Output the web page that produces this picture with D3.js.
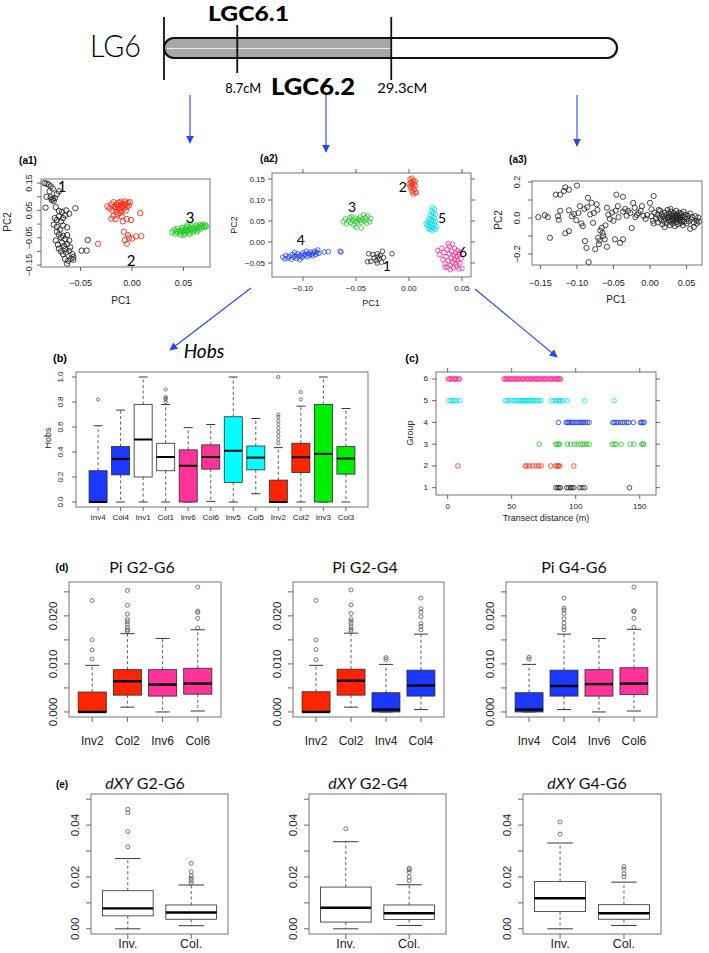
<!DOCTYPE html>
<html><head><meta charset="utf-8">
<script src="https://cdn.jsdelivr.net/npm/d3@7/dist/d3.min.js"></script>
<style>html,body{margin:0;padding:0;background:#fff;}svg{display:block;}</style>
</head><body>
<svg id="fig" width="709" height="953"></svg>
<script>
// ================= DATA =================
const chromEndsCM = [-1.1, 59.5];
const chromMarkersCM = [8.7, 29.3];
const chromMarkerText = ["8.7cM", "29.3cM"];
const chromRegionText = ["LGC6.1", "LGC6.2"];

// (a1) PCA, PC1/PC2
const a1Cluster1 = [[-0.085,0.150],[-0.083,0.148],[-0.081,0.145],[-0.079,0.138],[-0.077,0.130],[-0.080,0.120],[-0.083,0.100],[-0.079,0.098],[-0.077,0.093],[-0.075,0.095],[-0.078,0.088],[-0.076,0.085],[-0.073,0.110],[-0.071,0.120],[-0.084,0.060],[-0.074,0.062],[-0.071,0.048],[-0.068,0.045],[-0.064,0.050],[-0.055,0.058],[-0.075,0.022],[-0.073,0.015],[-0.071,0.028],[-0.069,0.010],[-0.067,0.022],[-0.065,0.032],[-0.061,0.038],[-0.076,-0.002],[-0.073,-0.010],[-0.070,-0.020],[-0.067,-0.005],[-0.063,-0.012],[-0.071,-0.038],[-0.069,-0.048],[-0.067,-0.043],[-0.065,-0.055],[-0.063,-0.040],[-0.061,-0.060],[-0.068,-0.068],[-0.066,-0.080],[-0.063,-0.073],[-0.060,-0.085],[-0.071,-0.090],[-0.069,-0.100],[-0.067,-0.110],[-0.064,-0.104],[-0.061,-0.098],[-0.058,-0.110],[-0.057,-0.120],[-0.059,-0.126],[-0.065,-0.128],[-0.062,-0.134],[-0.063,-0.145],[-0.057,-0.130],[-0.074,-0.060],[-0.073,-0.028],[-0.065,-0.092],[-0.072,-0.075],[-0.043,-0.058],[-0.049,-0.097],[-0.044,-0.097]];
const a1Cluster2 = [[-0.024,0.065],[-0.022,0.058],[-0.020,0.072],[-0.019,0.050],[-0.018,0.080],[-0.017,0.064],[-0.016,0.057],[-0.015,0.072],[-0.015,0.045],[-0.014,0.068],[-0.013,0.078],[-0.013,0.060],[-0.012,0.052],[-0.011,0.070],[-0.011,0.082],[-0.010,0.063],[-0.010,0.046],[-0.009,0.075],[-0.008,0.058],[-0.008,0.068],[-0.007,0.083],[-0.006,0.072],[-0.006,0.050],[-0.005,0.062],[-0.004,0.078],[-0.003,0.068],[-0.002,0.080],[-0.014,0.035],[-0.018,0.030],[-0.010,0.028],[-0.020,0.020],[-0.016,0.018],[-0.005,0.018],[-0.001,0.015],[0.008,0.040],[-0.008,-0.028],[-0.004,-0.040],[-0.007,-0.059],[-0.005,-0.072],[0.000,-0.053],[0.004,-0.045],[0.009,-0.044],[-0.003,-0.050],[-0.033,-0.072],[-0.012,0.040],[-0.009,0.010]];
const a1Cluster3 = [[0.039,-0.030],[0.041,-0.022],[0.042,-0.035],[0.043,-0.027],[0.044,-0.018],[0.045,-0.031],[0.046,-0.024],[0.047,-0.038],[0.048,-0.020],[0.048,-0.029],[0.049,-0.014],[0.050,-0.025],[0.051,-0.033],[0.052,-0.018],[0.052,-0.026],[0.053,-0.010],[0.054,-0.022],[0.055,-0.030],[0.056,-0.015],[0.057,-0.024],[0.058,-0.008],[0.058,-0.019],[0.059,-0.028],[0.060,-0.013],[0.061,-0.021],[0.062,-0.006],[0.063,-0.016],[0.064,-0.010],[0.065,-0.020],[0.066,-0.004],[0.067,-0.013],[0.068,-0.008],[0.069,-0.002],[0.070,-0.011],[0.071,-0.005],[0.072,-0.008],[0.056,-0.036],[0.050,-0.040],[0.063,-0.026],[0.054,-0.005]];
const a1XTicks = [-0.05, 0, 0.05];
const a1YTicks = [-0.15,-0.10,-0.05,0,0.05,0.10,0.15];
const a1YLabels = [-0.15,-0.05,0.05,0.15];

// (a2)
const a2Group1 = [[-0.038,-0.028],[-0.036,-0.046],[-0.034,-0.030],[-0.033,-0.038],[-0.031,-0.044],[-0.030,-0.028],[-0.029,-0.035],[-0.028,-0.040],[-0.027,-0.032],[-0.026,-0.048],[-0.025,-0.022],[-0.024,-0.037],[-0.016,-0.028],[-0.039,-0.047],[-0.030,-0.050]];
const a2Group2 = [[0.001,0.150],[0.003,0.152],[0.004,0.146],[0.002,0.143],[0.005,0.140],[0.000,0.138],[0.003,0.136],[0.006,0.134],[0.001,0.132],[0.004,0.130],[0.002,0.127],[0.005,0.125],[0.003,0.120],[0.006,0.117],[0.004,0.114],[0.007,0.118],[0.002,0.140],[0.006,0.145]];
const a2Group3 = [[-0.062,0.048],[-0.060,0.055],[-0.059,0.043],[-0.057,0.050],[-0.056,0.058],[-0.055,0.046],[-0.053,0.052],[-0.052,0.040],[-0.051,0.057],[-0.050,0.049],[-0.049,0.045],[-0.048,0.055],[-0.047,0.051],[-0.046,0.060],[-0.045,0.047],[-0.044,0.054],[-0.043,0.065],[-0.042,0.050],[-0.041,0.058],[-0.040,0.045],[-0.039,0.062],[-0.037,0.048],[-0.036,0.056],[-0.050,0.035],[-0.045,0.033],[-0.054,0.060]];
const a2Group4 = [[-0.119,-0.036],[-0.117,-0.040],[-0.116,-0.032],[-0.114,-0.038],[-0.113,-0.034],[-0.111,-0.041],[-0.110,-0.030],[-0.109,-0.036],[-0.107,-0.033],[-0.106,-0.039],[-0.105,-0.028],[-0.104,-0.034],[-0.102,-0.031],[-0.101,-0.037],[-0.100,-0.026],[-0.099,-0.033],[-0.098,-0.029],[-0.097,-0.022],[-0.096,-0.035],[-0.095,-0.027],[-0.094,-0.031],[-0.093,-0.024],[-0.092,-0.029],[-0.091,-0.033],[-0.090,-0.026],[-0.089,-0.022],[-0.088,-0.030],[-0.087,-0.025],[-0.086,-0.019],[-0.085,-0.027],[-0.080,-0.024],[-0.076,-0.023],[-0.065,-0.022],[-0.064,-0.024],[-0.108,-0.025],[-0.103,-0.042]];
const a2Group5 = [[0.022,0.082],[0.024,0.078],[0.021,0.074],[0.023,0.070],[0.025,0.066],[0.020,0.064],[0.022,0.061],[0.024,0.058],[0.019,0.056],[0.021,0.053],[0.023,0.051],[0.025,0.049],[0.018,0.048],[0.020,0.045],[0.022,0.043],[0.024,0.041],[0.017,0.040],[0.019,0.037],[0.021,0.035],[0.023,0.033],[0.026,0.036],[0.016,0.044],[0.020,0.030],[0.022,0.027],[0.018,0.032],[0.025,0.030]];
const a2Group6 = [[0.027,-0.020],[0.029,-0.030],[0.031,-0.015],[0.032,-0.042],[0.033,-0.025],[0.034,-0.052],[0.035,-0.035],[0.036,-0.018],[0.036,-0.060],[0.037,-0.045],[0.038,-0.028],[0.038,-0.010],[0.039,-0.055],[0.040,-0.038],[0.040,-0.022],[0.041,-0.048],[0.041,-0.005],[0.042,-0.032],[0.042,-0.062],[0.043,-0.015],[0.043,-0.042],[0.044,-0.052],[0.044,-0.026],[0.045,-0.035],[0.045,-0.058],[0.046,-0.020],[0.046,-0.045],[0.047,-0.064],[0.047,-0.030],[0.048,-0.050],[0.049,-0.040],[0.050,-0.063],[0.039,-0.066],[0.034,-0.060],[0.048,-0.025],[0.037,-0.004]];
const a2XTicks = [-0.10,-0.05,0,0.05];
const a2YTicks = [-0.05,0,0.05,0.10,0.15];

// (a3)
const a3Points = [[-0.153,0.005],[-0.144,0.016],[-0.140,0.005],[-0.137,-0.110],[-0.129,0.130],[-0.123,0.130],[-0.118,0.150],[-0.116,0.170],[-0.111,0.157],[-0.100,0.180],[-0.123,0.040],[-0.126,0.010],[-0.125,-0.010],[-0.116,-0.085],[-0.111,-0.073],[-0.111,0.043],[-0.107,0.010],[-0.104,0.022],[-0.101,-0.012],[-0.098,0.028],[-0.096,0.066],[-0.090,0.050],[-0.092,-0.045],[-0.089,-0.128],[-0.087,-0.166],[-0.085,0.112],[-0.084,-0.245],[-0.080,0.085],[-0.078,-0.027],[-0.077,0.028],[-0.075,-0.173],[-0.073,0.076],[-0.071,-0.110],[-0.070,-0.145],[-0.066,-0.054],[-0.065,-0.083],[-0.062,-0.118],[-0.059,-0.160],[-0.059,0.057],[-0.055,-0.005],[-0.050,-0.015],[-0.048,-0.118],[-0.046,0.130],[-0.047,0.040],[-0.044,0.066],[-0.041,-0.138],[-0.037,-0.118],[-0.037,0.118],[-0.037,0.035],[-0.032,0.012],[-0.030,0.040],[-0.025,-0.056],[-0.023,0.084],[-0.021,0.057],[-0.018,0.017],[-0.016,0.028],[-0.011,0.066],[-0.009,0.012],[-0.004,0.017],[0.000,0.084],[0.002,0.049],[0.005,0.122],[-0.068,-0.070],[-0.064,-0.100],[-0.069,-0.125],[-0.061,-0.040],[-0.057,0.018],[-0.052,0.030],[-0.043,0.005],[-0.034,0.050],[-0.027,0.028],[-0.020,0.005],[-0.013,0.040],[-0.006,-0.005],[-0.082,0.020],[-0.086,0.060],[-0.094,-0.030],[-0.072,0.045],
[0.002,0.010],[0.004,-0.015],[0.006,0.030],[0.008,-0.002],[0.010,0.018],[0.011,-0.025],[0.013,0.005],[0.014,0.040],[0.015,-0.010],[0.016,0.022],[0.017,-0.035],[0.018,0.008],[0.019,-0.018],[0.020,0.030],[0.021,-0.004],[0.022,0.015],[0.023,-0.028],[0.024,0.045],[0.024,0.002],[0.025,-0.012],[0.026,0.025],[0.027,-0.040],[0.027,0.010],[0.028,-0.020],[0.029,0.035],[0.030,-0.005],[0.030,0.018],[0.031,-0.030],[0.032,0.005],[0.032,-0.015],[0.033,0.028],[0.034,-0.045],[0.034,0.012],[0.035,-0.008],[0.036,0.040],[0.036,-0.022],[0.037,0.020],[0.038,-0.002],[0.038,-0.035],[0.039,0.008],[0.040,0.030],[0.040,-0.015],[0.041,0.015],[0.042,-0.028],[0.042,0.000],[0.043,0.024],[0.044,-0.010],[0.045,-0.040],[0.045,0.010],[0.046,0.035],[0.047,-0.020],[0.048,0.004],[0.049,0.020],[0.050,-0.030],[0.051,-0.005],[0.052,0.012],[0.053,-0.018],[0.055,0.025],[0.056,-0.008],[0.058,0.005],[0.060,-0.025],[0.062,0.010],[0.064,-0.015],[0.055,-0.060],[0.060,-0.050],[0.066,0.002],[0.028,0.050],[0.020,-0.050],[0.012,0.045],[0.005,-0.030],[0.067,-0.020],[0.064,-0.030],[0.035,0.002],[0.031,-0.010],[0.026,0.004],[0.041,0.004],[0.044,-0.020],[0.037,0.010]];
const a3XTicks = [-0.15,-0.10,-0.05,0,0.05];
const a3YTicks = [-0.2,-0.1,0,0.1,0.2];
const a3YLabels = [-0.2,0,0.2];

// (b) Hobs boxplots: [lower whisker, Q1, median, Q3, upper whisker]
const hobsCategories = ["Inv4","Col4","Inv1","Col1","Inv6","Col6","Inv5","Col5","Inv2","Col2","Inv3","Col3"];
const hobsStats = [[0,0,0,0.25,0.61],[0,0.217,0.345,0.443,0.735],[0,0.20,0.50,0.78,1.0],[0,0.25,0.36,0.47,0.78],[0,0,0.29,0.417,0.595],[0.005,0.263,0.36,0.457,0.62],[0,0.157,0.41,0.682,1.0],[0.066,0.257,0.355,0.448,0.668],[0,0,0,0.175,0.435],[0,0.236,0.358,0.47,0.767],[0,0,0.385,0.78,1.0],[0,0.223,0.348,0.443,0.748]];
const hobsOutliers = [[0.82],[],[],[0.80,0.82,0.83,0.84,0.90],[],[],[],[],[0.47,0.50,0.53,0.56,0.59,0.62,0.65,0.68,0.70,1.0],[0.82,0.88],[],[]];
const hobsTicks = [0,0.2,0.4,0.6,0.8,1.0];

// (c) transect distance (m) by group
const transectGroup1 = [84.5,86,87,88,93,94.5,96,97,98.5,103,105,107,142];
const transectGroup2 = [8,60.5,62,64,66.5,69,71,73,80.5,84.5,85.5,86.5,87.5,98.5];
const transectGroup3 = [71.5,84.5,85.5,86.5,87.5,93.5,96,99,101,103.5,105.5,107,108.5,110.5,128.5,130,131.5,135.5,142.5,145.5,151.5,152.5,153];
const transectGroup4 = [86.5,92.5,93.5,94.5,95.5,97,98,99.5,101,102.5,104,105,106,107.5,109,110.5,129,130,131.5,133,135,136.5,138,140,141.5,145,150.5,151.5,152.5,153.5];
const transectGroup5 = [1,2.5,4,5.5,7,9.5,45,46.5,48,50,52,53.5,55,56.5,58,59,60,61,62.5,63.5,65,66,67,68.5,70,71.5,73,81,83,85,86.5,87.5,88.5,90,93.5,107,130];
const transectGroup6 = [0.5,1.5,2.5,3.5,5,6,7,8.5,9.5,44,45,46,47,48.5,49.5,50.5,52,53,54,55,56,57.5,58.5,59.5,61,62,63,64.5,65.5,66.5,68,69,70,71,72.5,73.5,75,76,77,78.5,80,81,82,83.5,84.5,85.5,86.5,87.5,88];
const transectXTicks = [0,50,100,150];
const transectYTicks = [1,2,3,4,5,6];

// (d) Pi
const piTicks = [0,0.005,0.010,0.015,0.020,0.025];
const piLabels = [0,0.010,0.020];
const piG2G6Categories = ["Inv2","Col2","Inv6","Col6"];
const piG2G6Stats = [[0,0,0,0.00415,0.0097],[0.001,0.0035,0.0064,0.0088,0.0163],[0,0.0033,0.0057,0.0088,0.0153],[0.0002,0.0037,0.0059,0.0091,0.0171]];
const piG2G6Outliers = [[0.011,0.0129,0.015,0.0232],[0.0168,0.0171,0.0176,0.0183,0.0188,0.0193,0.0204,0.0222,0.0253],[],[0.0175,0.0195,0.0207,0.0210,0.026]];
const piG2G4Categories = ["Inv2","Col2","Inv4","Col4"];
const piG2G4Stats = [[0,0,0,0.0042,0.0097],[0.001,0.0035,0.0065,0.0089,0.0164],[0,0,0.0005,0.004,0.0099],[0.0005,0.0033,0.0055,0.0087,0.0162]];
const piG2G4Outliers = [[0.0109,0.013,0.015,0.0232],[0.0168,0.0172,0.0177,0.0184,0.0189,0.0194,0.0205,0.0223,0.0254],[0.0109,0.0113],[0.0171,0.0178,0.0184,0.0198,0.0208,0.0215,0.0237]];
const piG4G6Categories = ["Inv4","Col4","Inv6","Col6"];
const piG4G6Stats = [[0,0,0.0005,0.004,0.0099],[0.0005,0.0033,0.0054,0.0087,0.0162],[0,0.0033,0.0058,0.0088,0.0153],[0.0002,0.0036,0.0059,0.0092,0.0172]];
const piG4G6Outliers = [[0.011,0.0114],[0.0171,0.0177,0.0185,0.0194,0.0205,0.0212,0.0216,0.0237],[],[0.0176,0.0195,0.0209,0.0211,0.026]];

// (e) dXY
const dxyTicks = [0,0.01,0.02,0.03,0.04,0.05];
const dxyLabels = [0,0.02,0.04];
const dxyCategories = ["Inv.","Col."];
const dxyG2G6Stats = [[0,0.005,0.0079,0.0147,0.0271],[0.0012,0.0037,0.0063,0.0092,0.0169]];
const dxyG2G6Outliers = [[0.0316,0.0375,0.0448,0.0461],[0.0177,0.0186,0.0195,0.0205,0.022,0.0253]];
const dxyG2G4Stats = [[0,0.0026,0.0081,0.0161,0.0336],[0.0013,0.0036,0.006,0.0092,0.017]];
const dxyG2G4Outliers = [[0.0386],[0.0186,0.02,0.0218,0.0228,0.0234]];
const dxyG4G6Stats = [[0,0.0067,0.0118,0.0182,0.0331],[0.0013,0.0037,0.006,0.0093,0.018]];
const dxyG4G6Outliers = [[0.0365,0.0412],[0.02,0.0212,0.023,0.024]];

// ================= STYLE =================
const FONT = "'Liberation Sans', Arial, Helvetica, sans-serif";
const HFONT = "Lato, 'Open Sans', 'Liberation Sans', sans-serif";
const ARROW = "#2746f2";
const PT = {1:"#262626",2:"#ff2a12",3:"#22cc22",4:"#1f3dff",5:"#00e0ec",6:"#ff2a92"};
const BOXFILL = {1:"#ffffff",2:"#ff2400",3:"#00ee00",4:"#1a38ff",5:"#00ffff",6:"#ff3399"};
const catColor = name => BOXFILL[name.replace(/\D/g,"")] || "#fff";

const svg = d3.select("#fig");
const defs = svg.append("defs");
defs.append("marker").attr("id","ah").attr("viewBox","0 0 10 10").attr("refX",9).attr("refY",5)
  .attr("markerUnits","userSpaceOnUse").attr("markerWidth",8).attr("markerHeight",8).attr("orient","auto")
  .append("path").attr("d","M0,0L10,5L0,10Z").attr("fill",ARROW);

function addText(p, x, y, s, o = {}) {
  const t = p.append("text").attr("x", x).attr("y", y).text(s)
    .attr("font-family", o.family || FONT).attr("font-size", o.size || 10)
    .attr("fill", o.fill || "#000").attr("text-anchor", o.anchor || "middle");
  if (o.weight) t.attr("font-weight", o.weight);
  if (o.style) t.attr("font-style", o.style);
  if (o.baseline) t.attr("dominant-baseline", o.baseline);
  if (o.rotate != null) t.attr("transform", `rotate(${o.rotate},${x},${y})`);
  if (o.len) t.attr("textLength", o.len).attr("lengthAdjust", "spacingAndGlyphs");
  return t;
}
function line(p, x1, y1, x2, y2, stroke, w, dash) {
  const l = p.append("line").attr("x1",x1).attr("y1",y1).attr("x2",x2).attr("y2",y2)
    .attr("stroke",stroke).attr("stroke-width",w);
  if (dash) l.attr("stroke-dasharray",dash);
  return l;
}
function frame(p, b, col) {
  p.append("rect").attr("x",b.x0).attr("y",b.y0).attr("width",b.x1-b.x0).attr("height",b.y1-b.y0)
   .attr("fill","none").attr("stroke",col||"#555").attr("stroke-width",0.9);
}
function points(p, x, y, data, col, r, w) {
  p.append("g").selectAll("circle").data(data).enter().append("circle")
   .attr("cx", d => x(d[0])).attr("cy", d => y(d[1])).attr("r", r)
   .attr("fill","none").attr("stroke",col).attr("stroke-width",w);
}

// ================= TOP: chromosome =================
(function(){
  const g = svg.append("g");
  const cm = d3.scaleLinear().domain(chromEndsCM).range([164, 617]);
  const by = 38, bh = 20;
  defs.append("clipPath").attr("id","barclip").append("rect")
    .attr("x",cm(chromEndsCM[0])).attr("y",by).attr("width",cm(chromEndsCM[1])-cm(chromEndsCM[0])).attr("height",bh).attr("rx",10);
  g.append("rect").attr("x",cm(chromEndsCM[0])).attr("y",by).attr("width",cm(chromMarkersCM[1])-cm(chromEndsCM[0])).attr("height",bh)
    .attr("fill","#a7a7a7").attr("clip-path","url(#barclip)");
  line(g, cm(chromEndsCM[0])+3, by+10.5, cm(chromMarkersCM[1]), by+10.5, "#ececec", 1);
  g.append("rect").attr("x",cm(chromEndsCM[0])).attr("y",by).attr("width",cm(chromEndsCM[1])-cm(chromEndsCM[0])).attr("height",bh)
    .attr("rx",10).attr("fill","none").attr("stroke","#111").attr("stroke-width",2.2);
  line(g, cm(chromEndsCM[0]), 17, cm(chromEndsCM[0]), 80, "#111", 1.8);
  line(g, cm(chromMarkersCM[0]), 25, cm(chromMarkersCM[0]), 73, "#111", 1.8);
  line(g, cm(chromMarkersCM[1]), 17, cm(chromMarkersCM[1]), 80, "#111", 1.8);
  addText(g, 115.5, 57, "LG6", {family:HFONT, size:31, weight:300, len:51});
  addText(g, 248.5, 21, chromRegionText[0], {family:HFONT, size:21, weight:900, len:81});
  addText(g, 313, 95, chromRegionText[1], {family:HFONT, size:22, weight:900, len:84});
  addText(g, cm(chromMarkersCM[0])+6, 93, chromMarkerText[0], {family:HFONT, size:14, len:36});
  addText(g, cm(chromMarkersCM[1])+11, 93, chromMarkerText[1], {family:HFONT, size:14, len:50});
  // arrows
  const ar = svg.append("g");
  const arrow = (x1,y1,x2,y2) => line(ar,x1,y1,x2,y2,ARROW,1.1).attr("marker-end","url(#ah)");
  arrow(190,95,190,143);
  arrow(326,95,326,152);
  arrow(577,95,577,146);
  arrow(251,288,170,350);
  arrow(475,289,557,357);
})();

// ================= (a1) =================
(function(){
  const g = svg.append("g");
  const b = {x0:41,x1:210,y0:179,y1:267};
  const x = d3.scaleLinear().domain([-0.0884,0.0757]).range([b.x0,b.x1]);
  const y = d3.scaleLinear().domain([-0.157,0.165]).range([b.y1,b.y0]);
  points(g,x,y,a1Cluster1,PT[1],2.7,0.9);
  points(g,x,y,a1Cluster2,PT[2],2.7,0.9);
  points(g,x,y,a1Cluster3,PT[3],2.7,0.9);
  frame(g,b,"#666");
  a1XTicks.forEach(v=>{ line(g,x(v),b.y1,x(v),b.y1+4,"#555",0.9);
    addText(g,x(v),286,d3.format(".2f")(v),{size:9,fill:"#222"}); });
  a1YTicks.forEach(v=>line(g,b.x0-4,y(v),b.x0,y(v),"#555",0.9));
  a1YLabels.forEach(v=>addText(g,29,y(v),d3.format(".2f")(v),{size:9,fill:"#222",rotate:-90,baseline:"central"}));
  addText(g,121,304,"PC1",{size:10,fill:"#222"});
  addText(g,7,222,"PC2",{size:10,fill:"#222",rotate:-90,baseline:"central"});
  [["1",-0.068,0.139],["2",-0.001,-0.132],["3",0.0563,0.0256]].forEach(d=>
    addText(g,x(d[1]),y(d[2]),d[0],{family:HFONT,size:15,baseline:"central"}));
  addText(svg,28,160,"(a1)",{size:10,weight:"bold",baseline:"central"});
})();

// ================= (a2) lattice =================
(function(){
  const g = svg.append("g");
  const b = {x0:272,x1:471,y0:173,y1:277};
  const x = d3.scaleLinear().domain([-0.1292,0.0585]).range([b.x0,b.x1]);
  const y = d3.scaleLinear().domain([-0.0833,0.1643]).range([b.y1,b.y0]);
  points(g,x,y,a2Group1,PT[1],2.3,0.8);
  points(g,x,y,a2Group2,PT[2],2.3,0.8);
  points(g,x,y,a2Group3,PT[3],2.3,0.8);
  points(g,x,y,a2Group4,PT[4],2.3,0.8);
  points(g,x,y,a2Group5,PT[5],2.3,0.8);
  points(g,x,y,a2Group6,PT[6],2.3,0.8);
  frame(g,b,"#666");
  a2XTicks.forEach(v=>{ line(g,x(v),b.y1,x(v),b.y1+4,"#555",0.9); line(g,x(v),b.y0-4,x(v),b.y0,"#555",0.9);
    addText(g,x(v),291,d3.format(".2f")(v),{size:8,fill:"#222"}); });
  a2YTicks.forEach(v=>{ line(g,b.x0-4,y(v),b.x0,y(v),"#555",0.9); line(g,b.x1,y(v),b.x1+4,y(v),"#555",0.9);
    addText(g,b.x0-7,y(v),d3.format(".2f")(v),{size:8,fill:"#222",anchor:"end",baseline:"central"}); });
  addText(g,371,306,"PC1",{size:9,fill:"#222"});
  addText(g,234,225,"PC2",{size:9,fill:"#222",rotate:-90,baseline:"central"});
  [["2",-0.0057,0.131],["3",-0.0538,0.0857],["5",0.0311,0.0595],["4",-0.102,0.0048],["6",0.051,-0.0214],["1",-0.0208,-0.057]].forEach(d=>
    addText(g,x(d[1]),y(d[2]),d[0],{family:HFONT,size:14,baseline:"central"}));
  addText(svg,269,158,"(a2)",{size:10,weight:"bold",baseline:"central"});
})();

// ================= (a3) =================
(function(){
  const g = svg.append("g");
  const b = {x0:532,x1:702,y0:181,y1:265};
  const x = d3.scaleLinear().domain([-0.1616,0.0712]).range([b.x0,b.x1]);
  const y = d3.scaleLinear().domain([-0.261,0.2056]).range([b.y1,b.y0]);
  points(g,x,y,a3Points,PT[1],2.6,0.85);
  frame(g,b,"#666");
  a3XTicks.forEach(v=>{ line(g,x(v),b.y1,x(v),b.y1+4,"#555",0.9);
    addText(g,x(v),285.5,d3.format(".2f")(v),{size:9,fill:"#222"}); });
  a3YTicks.forEach(v=>line(g,b.x0-4,y(v),b.x0,y(v),"#555",0.9));
  a3YLabels.forEach(v=>addText(g,517,y(v),d3.format(".1f")(v),{size:9,fill:"#222",rotate:-90,baseline:"central"}));
  addText(g,616,303,"PC1",{size:10,fill:"#222"});
  addText(g,498,220,"PC2",{size:10,fill:"#222",rotate:-90,baseline:"central"});
  addText(svg,518,159,"(a3)",{size:10,weight:"bold",baseline:"central"});
})();

// ================= base boxplot panel =================
function boxPanel(c){
  const g = svg.append("g");
  const n = c.cats.length;
  const x = d3.scaleLinear().domain([0.5-0.04*n, n+0.5+0.04*n]).range([c.x0,c.x1]);
  const y = d3.scaleLinear().domain(c.yDomain).range([c.y1,c.y0]);
  const bw = (x(1)-x(0))*0.8, cw = bw/4;
  c.stats.forEach((s,i)=>{
    const cx = x(i+1); const [lo,q1,med,q3,hi] = s;
    const fill = c.white ? "#fff" : catColor(c.cats[i]);
    line(g,cx,y(q3),cx,y(hi),"#333",0.8,"3,2.5");
    line(g,cx,y(q1),cx,y(lo),"#333",0.8,"3,2.5");
    line(g,cx-cw,y(hi),cx+cw,y(hi),"#222",0.9);
    line(g,cx-cw,y(lo),cx+cw,y(lo),"#222",0.9);
    g.append("rect").attr("x",cx-bw/2).attr("y",y(q3)).attr("width",bw).attr("height",Math.max(0.6,y(q1)-y(q3)))
      .attr("fill",fill).attr("stroke","#2a2a2a").attr("stroke-width",0.8);
    line(g,cx-bw/2,y(med),cx+bw/2,y(med),"#000",c.medW||2.4);
    g.append("g").selectAll("circle").data(c.outs[i]).enter().append("circle")
      .attr("cx",cx).attr("cy",v=>y(v)).attr("r",c.outR||2).attr("fill","none").attr("stroke","#555").attr("stroke-width",0.8);
    line(g,cx,c.y1,cx,c.y1+c.tick,"#555",0.9);
    addText(g,cx,c.catY,c.cats[i],{size:c.catSize,fill:"#222"});
  });
  frame(g,{x0:c.x0,x1:c.x1,y0:c.y0,y1:c.y1},"#666");
  c.yTicks.forEach(v=>line(g,c.x0-c.tick,y(v),c.x0,y(v),"#555",0.9));
  c.yLabels.forEach(v=>addText(g,c.x0-16,y(v),d3.format(c.fmt)(v),{size:c.tickSize,fill:"#222",rotate:-90,baseline:"central"}));
  if (c.title) {
    const t = g.append("text").attr("x",c.titleX).attr("y",c.titleY).attr("text-anchor","middle")
      .attr("font-family",HFONT).attr("font-size",16).attr("fill","#111");
    c.title.forEach(p=>{ const ts=t.append("tspan").text(p[0]); if(p[1]) ts.attr("font-style","italic"); });
  }
  return {g,x,y};
}

// ================= (b) Hobs =================
(function(){
  boxPanel({x0:76,x1:368,y0:372,y1:507,yDomain:[-0.04,1.04],cats:hobsCategories,stats:hobsStats,outs:hobsOutliers,
    yTicks:hobsTicks,yLabels:hobsTicks,fmt:".1f",tickSize:8,catSize:8,catY:520,tick:4,outR:1.6,medW:2});
  addText(svg,48,438,"Hobs",{size:9,fill:"#222",rotate:-90,baseline:"central"});
  addText(svg,204,358,"Hobs",{family:HFONT,size:19,style:"italic"});
  addText(svg,60,358,"(b)",{size:11,weight:"bold",baseline:"central"});
})();

// ================= (c) transect =================
(function(){
  const g = svg.append("g");
  const b = {x0:436,x1:656,y0:372,y1:495};
  const x = d3.scaleLinear().domain([-9.1,162.7]).range([b.x0,b.x1]);
  const y = d3.scaleLinear().domain([0.664,6.32]).range([b.y1,b.y0]);
  const groups = [transectGroup1,transectGroup2,transectGroup3,transectGroup4,transectGroup5,transectGroup6];
  groups.forEach((arr,i)=>points(g,x,y,arr.map(v=>[v,i+1]),PT[i+1],2.3,0.8));
  frame(g,b,"#666");
  transectXTicks.forEach(v=>{ line(g,x(v),b.y1,x(v),b.y1+4,"#555",0.9); line(g,x(v),b.y0-4,x(v),b.y0,"#555",0.9);
    addText(g,x(v),509,d3.format("d")(v),{size:8,fill:"#222"}); });
  transectYTicks.forEach(v=>{ line(g,b.x0-4,y(v),b.x0,y(v),"#555",0.9); line(g,b.x1,y(v),b.x1+4,y(v),"#555",0.9);
    addText(g,b.x0-8,y(v),d3.format("d")(v),{size:8,fill:"#222",anchor:"end",baseline:"central"}); });
  addText(g,410,433,"Group",{size:9,fill:"#222",rotate:-90,baseline:"central"});
  addText(g,546,521,"Transect distance (m)",{size:9,fill:"#222"});
  addText(svg,412,358,"(c)",{size:11,weight:"bold",baseline:"central"});
})();

// ================= (d) Pi =================
const piDomain = [-0.00105, 0.02705];
boxPanel({x0:69,x1:221,y0:582,y1:717,yDomain:piDomain,cats:piG2G6Categories,stats:piG2G6Stats,outs:piG2G6Outliers,
  yTicks:piTicks,yLabels:piLabels,fmt:".3f",tickSize:11.5,catSize:12,catY:745,tick:5,outR:2,title:[["Pi G2-G6"]],titleX:142,titleY:573});
boxPanel({x0:293,x1:444,y0:582,y1:717,yDomain:piDomain,cats:piG2G4Categories,stats:piG2G4Stats,outs:piG2G4Outliers,
  yTicks:piTicks,yLabels:piLabels,fmt:".3f",tickSize:11.5,catSize:12,catY:745,tick:5,outR:2,title:[["Pi G2-G4"]],titleX:365,titleY:573});
boxPanel({x0:506,x1:657,y0:582,y1:717,yDomain:piDomain,cats:piG4G6Categories,stats:piG4G6Stats,outs:piG4G6Outliers,
  yTicks:piTicks,yLabels:piLabels,fmt:".3f",tickSize:11.5,catSize:12,catY:745,tick:5,outR:2,title:[["Pi G4-G6"]],titleX:574,titleY:573});
addText(svg,62,567,"(d)",{size:10,weight:"bold",baseline:"central"});

// ================= (e) dXY =================
const dxyDomain = [-0.002, 0.052];
boxPanel({x0:91,x1:228,y0:794,y1:934,yDomain:dxyDomain,cats:dxyCategories,stats:dxyG2G6Stats,outs:dxyG2G6Outliers,white:true,
  yTicks:dxyTicks,yLabels:dxyLabels,fmt:".2f",tickSize:11.5,catSize:12.5,catY:948,tick:5,outR:2,title:[["dXY",true],[" G2-G6"]],titleX:145,titleY:789});
boxPanel({x0:309,x1:446,y0:794,y1:934,yDomain:dxyDomain,cats:dxyCategories,stats:dxyG2G4Stats,outs:dxyG2G4Outliers,white:true,
  yTicks:dxyTicks,yLabels:dxyLabels,fmt:".2f",tickSize:11.5,catSize:12.5,catY:948,tick:5,outR:2,title:[["dXY",true],[" G2-G4"]],titleX:368,titleY:789});
boxPanel({x0:523,x1:661,y0:794,y1:934,yDomain:dxyDomain,cats:dxyCategories,stats:dxyG4G6Stats,outs:dxyG4G6Outliers,white:true,
  yTicks:dxyTicks,yLabels:dxyLabels,fmt:".2f",tickSize:11.5,catSize:12.5,catY:948,tick:5,outR:2,title:[["dXY",true],[" G4-G6"]],titleX:587,titleY:789});
addText(svg,62,784,"(e)",{size:10,weight:"bold",baseline:"central"});
</script>
</body></html>
